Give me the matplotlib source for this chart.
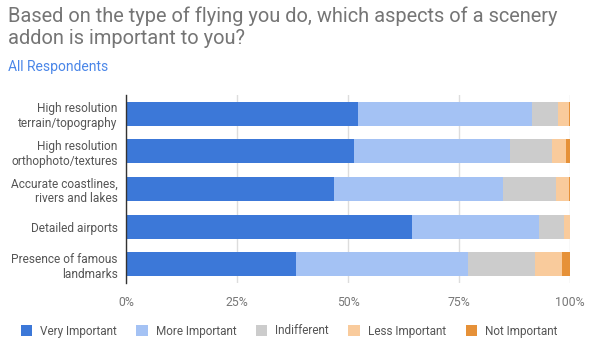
import matplotlib
matplotlib.use("Agg")
import matplotlib.pyplot as plt
import numpy as np

categories = ["High resolution\nterrain/topography",
              "High resolution\northophoto/textures",
              "Accurate coastlines,\nrivers and lakes",
              "Detailed airports",
              "Presence of famous\nlandmarks"]
series_names = ["Very Important", "More Important", "Indifferent", "Less Important", "Not Important"]
very_important = [52.2, 51.3, 46.8, 64.4, 38.2]
more_important = [39.3, 35.2, 38.2, 28.6, 38.9]
indifferent = [5.9, 9.5, 11.9, 5.7, 15.1]
less_important = [2.4, 3.1, 2.8, 1.3, 6.1]
not_important = [0.2, 0.9, 0.3, 0.0, 1.7]
tick_labels = ["0%", "25%", "50%", "75%", "100%"]
colors = ["#3c78d8", "#a4c2f4", "#cccccc", "#f9cb9c", "#e69138"]
title_lines = ["Based on the type of flying you do, which aspects of a scenery",
               "addon is important to you?"]
subtitle = "All Respondents"

plt.rcParams['font.family'] = ['Roboto', 'DejaVu Sans']

W, H = 589, 346
fig = plt.figure(figsize=(W / 100, H / 100), dpi=100)
ax = fig.add_axes([126 / W, 1 - 283 / H, (570 - 126) / W, (283 - 95) / H])

series = [very_important, more_important, indifferent, less_important, not_important]
y = np.arange(len(categories))
left = np.zeros(len(categories))
handles = []
for name, vals, c in zip(series_names, series, colors):
    vals = np.array(vals, dtype=float)
    b = ax.barh(y, vals, left=left, height=0.64, color=c, label=name, zorder=3)
    handles.append(b)
    left += vals

ax.set_ylim(len(categories) - 0.5, -0.5)
ax.set_xlim(0, 100)
ax.set_yticks(y)
ax.set_yticklabels(categories, fontsize=8.6, color="#555555", linespacing=1.2)
ax.set_xticks([0, 25, 50, 75, 100])
ax.set_xticklabels(tick_labels, fontsize=8.8, color="#777777")
ax.tick_params(axis='y', length=0, pad=6)
ax.tick_params(axis='x', length=0, pad=9)
ax.grid(axis='x', color="#dddddd", linewidth=1, zorder=0)
for s in ["top", "right", "bottom"]:
    ax.spines[s].set_visible(False)
ax.spines["left"].set_color("#333333")
ax.spines["left"].set_linewidth(1)
ax.spines["left"].set_zorder(4)

fig.text(8 / W, 1 - 22 / H, title_lines[0], fontsize=14.4, color="#757575", va="baseline", ha="left")
fig.text(8 / W, 1 - 44 / H, title_lines[1], fontsize=14.4, color="#757575", va="baseline", ha="left")
fig.text(8 / W, 1 - 71 / H, subtitle, fontsize=10, color="#4a86e8", va="baseline", ha="left")

leg = fig.legend(handles=handles, labels=series_names, loc="center", bbox_to_anchor=(289 / W, 1 - 331 / H),
                 ncol=5, frameon=False, fontsize=8.5, handlelength=0.95, handleheight=0.95,
                 columnspacing=1.65, handletextpad=0.7, labelcolor="#555555")

fig.savefig("out.png", dpi=100)
